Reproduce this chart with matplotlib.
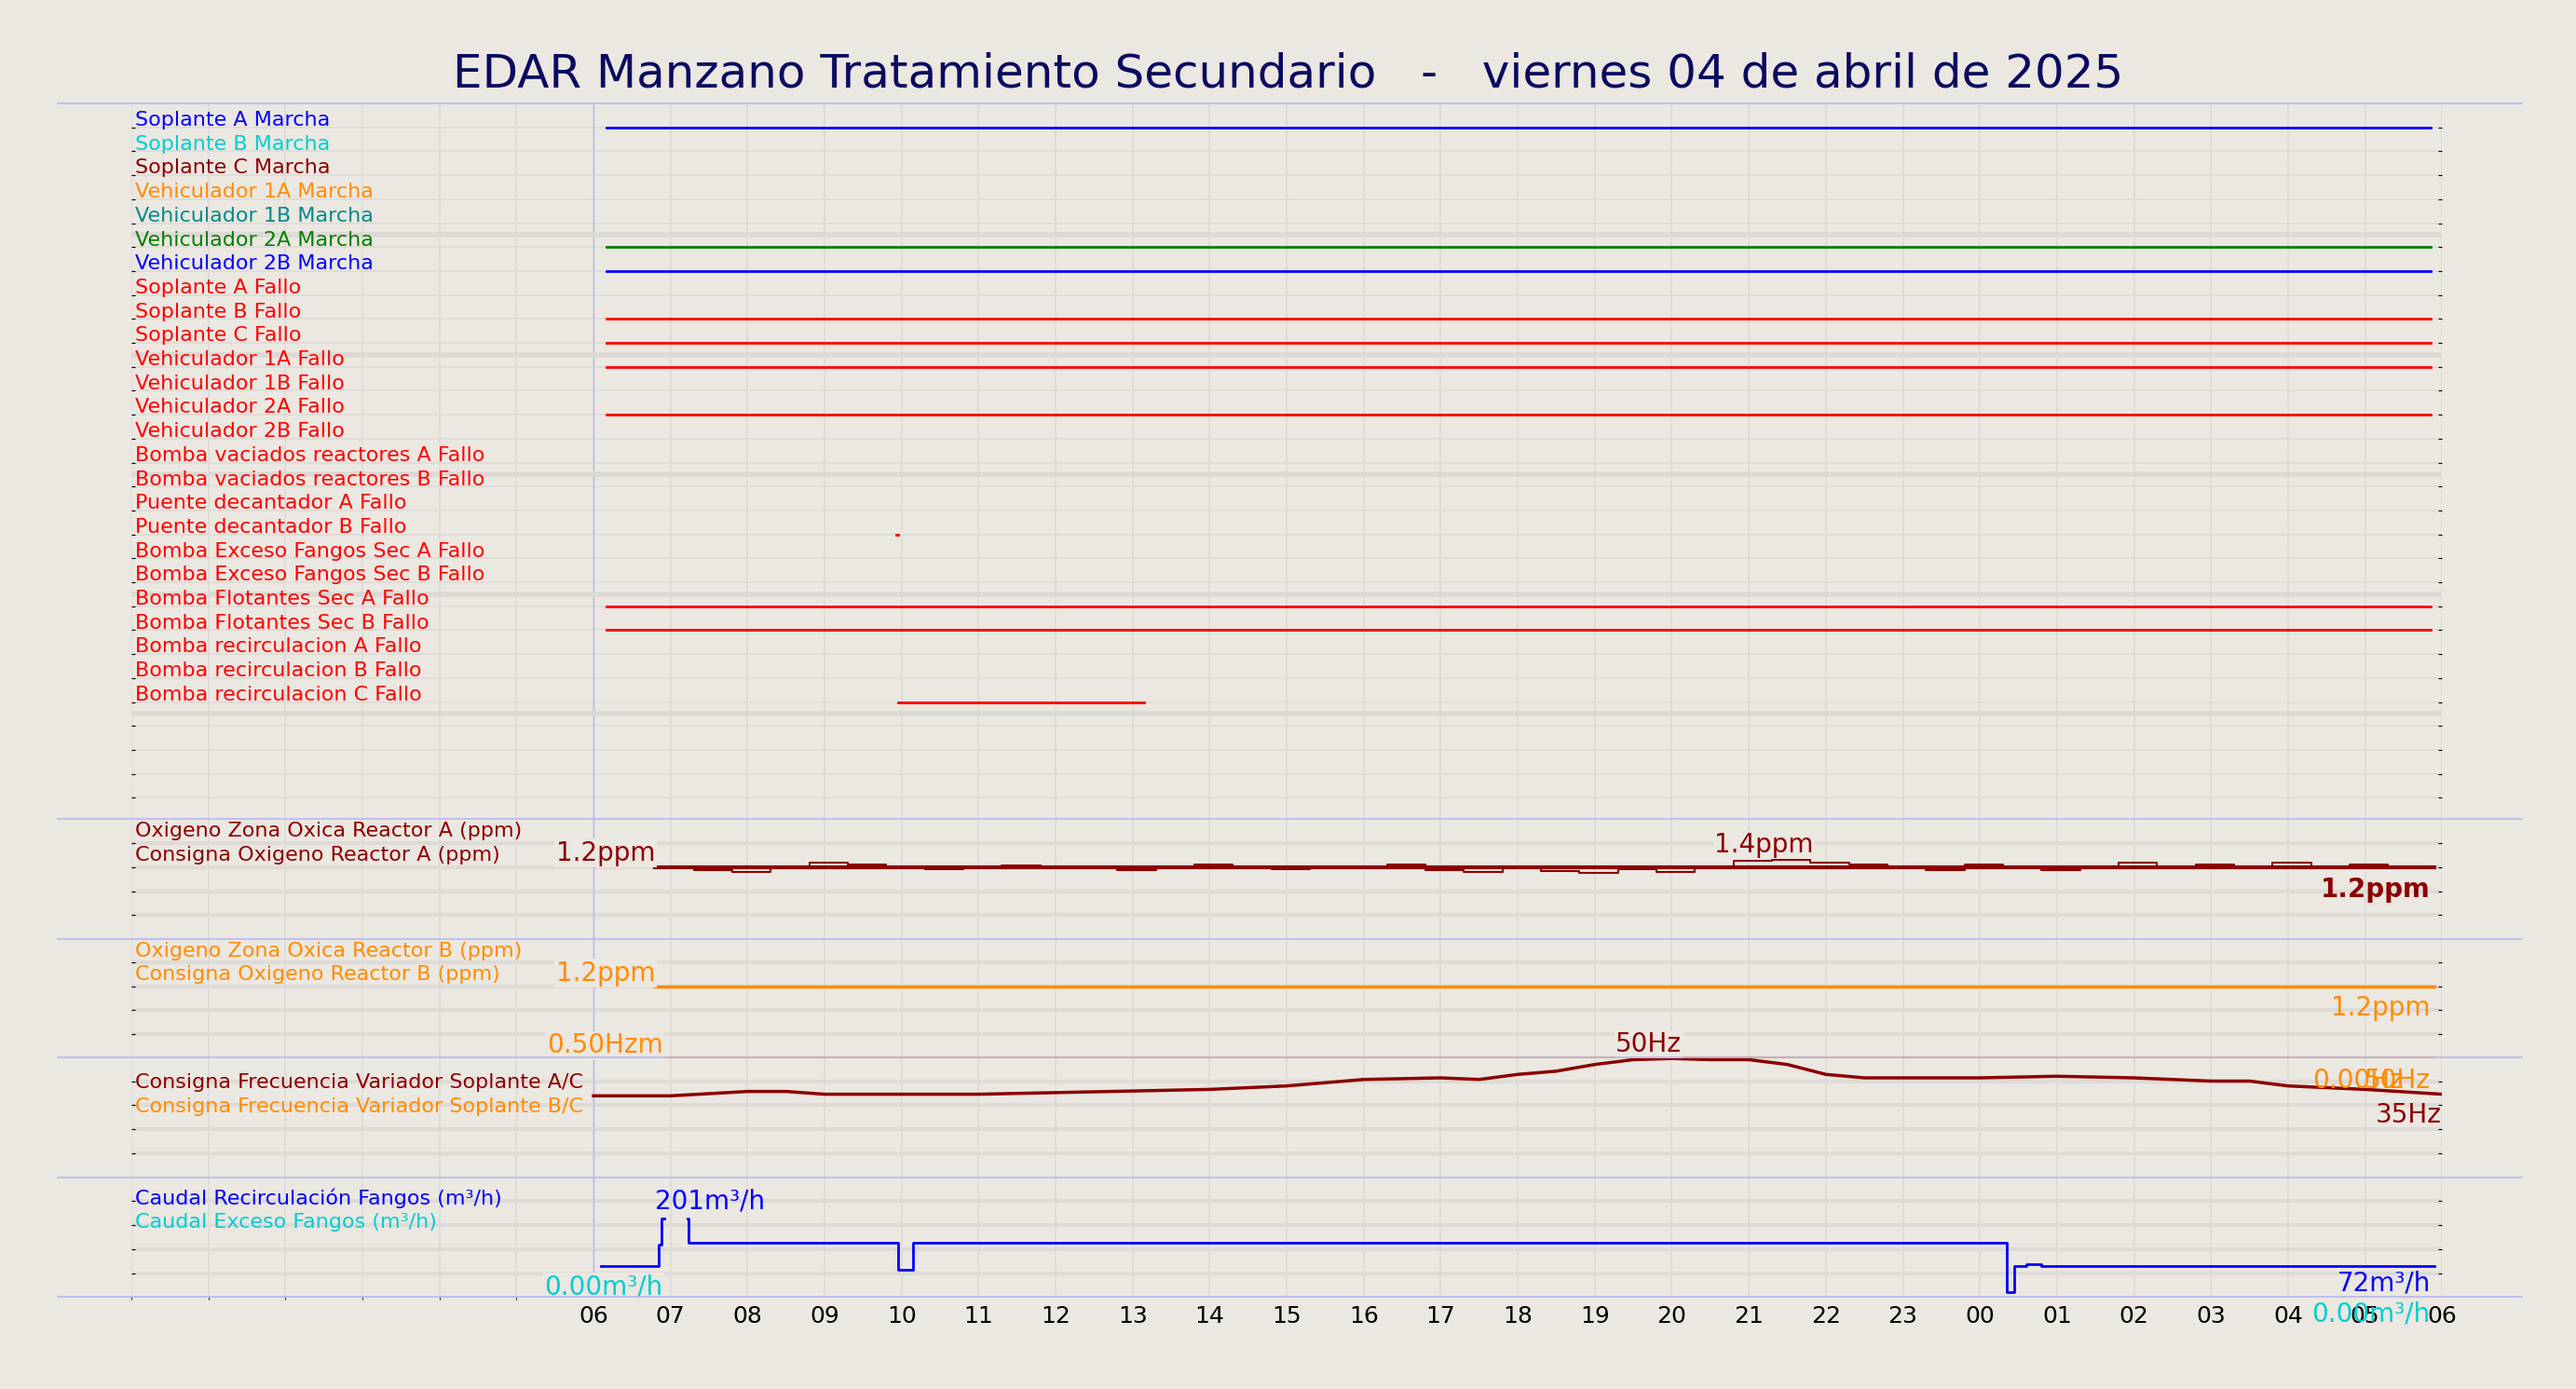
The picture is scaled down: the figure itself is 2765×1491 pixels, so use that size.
import numpy as np
import matplotlib
matplotlib.use("Agg")
import matplotlib.pyplot as plt
from matplotlib.lines import Line2D

BG = '#ebe7e1'
GRID = '#dedad6'
SEP = '#b8b8f0'

title = "EDAR Manzano Tratamiento Secundario   -   viernes 04 de abril de 2025"

# ---- panel 1: digital signals ----
signal_names = [
    "Soplante A Marcha", "Soplante B Marcha", "Soplante C Marcha",
    "Vehiculador 1A Marcha", "Vehiculador 1B Marcha", "Vehiculador 2A Marcha",
    "Vehiculador 2B Marcha", "Soplante A Fallo", "Soplante B Fallo",
    "Soplante C Fallo", "Vehiculador 1A Fallo", "Vehiculador 1B Fallo",
    "Vehiculador 2A Fallo", "Vehiculador 2B Fallo",
    "Bomba vaciados reactores A Fallo", "Bomba vaciados reactores B Fallo",
    "Puente decantador A Fallo", "Puente decantador B Fallo",
    "Bomba Exceso Fangos Sec A Fallo", "Bomba Exceso Fangos Sec B Fallo",
    "Bomba Flotantes Sec A Fallo", "Bomba Flotantes Sec B Fallo",
    "Bomba recirculacion A Fallo", "Bomba recirculacion B Fallo",
    "Bomba recirculacion C Fallo",
]
signal_colors = [
    'blue', 'darkturquoise', 'darkred', 'darkorange', 'darkcyan', 'green',
    'blue'] + ['red'] * 18
# active intervals (hours from 00:00 of the day; 24+ = next day)
signal_on = {
    0: [(6.17, 29.85)], 5: [(6.17, 29.85)], 6: [(6.17, 29.85)],
    8: [(6.17, 29.85)], 9: [(6.17, 29.85)], 10: [(6.17, 29.85)],
    12: [(6.17, 29.85)], 17: [(9.93, 9.96)], 20: [(6.17, 29.85)],
    21: [(6.17, 29.85)], 24: [(9.95, 13.15)],
}

# ---- panel 2: oxygen reactor A ----
oxa_t = [6.8 + 0.5 * i for i in range(47)]
oxa_v = [1.2, 1.15, 1.12, 1.2, 1.27, 1.24, 1.2, 1.16, 1.2, 1.23, 1.2, 1.2,
         1.15, 1.2, 1.25, 1.2, 1.16, 1.2, 1.2, 1.24, 1.15, 1.12, 1.2, 1.14,
         1.1, 1.16, 1.12, 1.2, 1.3, 1.33, 1.27, 1.25, 1.2, 1.15, 1.24, 1.2,
         1.15, 1.2, 1.27, 1.2, 1.24, 1.2, 1.28, 1.2, 1.24, 1.2, 1.22]
oxa_sp = 1.2
oxb_sp = 1.2

# ---- panel 4: blower frequency ----
freq_t = [6, 7, 8, 8.5, 9, 10, 11, 12, 13, 14, 15, 16, 17, 17.5, 18, 18.5,
          19, 19.5, 20, 20.5, 21, 21.5, 22, 22.5, 23, 24, 25, 26, 27, 27.5,
          28, 29, 30]
freq_v = [34.3, 34.3, 36.2, 36.2, 35.0, 35.0, 35.0, 35.7, 36.4, 37.1, 38.6,
          41.4, 42.1, 41.4, 43.6, 45.0, 47.9, 50.0, 50.5, 50.0, 50.0, 47.9,
          43.6, 42.1, 42.1, 42.1, 42.8, 42.1, 40.7, 40.7, 38.6, 37.1, 35.0]
freq_bc = 50.8

# ---- panel 5: sludge flows ----
rec_t = [6.1, 6.85, 6.88, 6.92, 7.22, 7.23, 9.95, 10.15, 24.35, 24.45, 24.6,
         24.8, 29.9]
rec_v = [72, 130, 201, np.nan, 201, 134, 62, 134, 0, 72, 76, 72, 70]
exc_v = 0.0

hours = np.arange(6, 31)
hour_labels = ["%02d" % (h % 24) for h in hours]

fig = plt.figure(figsize=(27.65, 14.91), dpi=100, facecolor=BG)
gs = fig.add_gridspec(5, 1, height_ratios=[436, 73, 72, 73, 73], hspace=0,
                      left=0.051, right=0.948, top=0.9255, bottom=0.0662)
axes = [fig.add_subplot(gs[i]) for i in range(5)]
fs = 16
vfs = 20


def style(ax):
    ax.set_facecolor(BG)
    ax.set_xlim(0, 30)
    ax.set_xticks(np.arange(0, 31, 1))
    ax.tick_params(axis='x', length=0, labelbottom=False)
    ax.grid(axis='x', color=GRID, lw=1.2)
    for s in ax.spines.values():
        s.set_visible(False)
    ax.tick_params(axis='y', left=True, right=True, labelleft=False,
                   length=3, color='black', direction='in')
    ax.axvline(6, color=SEP, lw=1.0)


# panel 1
ax = axes[0]
style(ax)
ax.set_ylim(29.2, -0.7)
ax.set_yticks(np.arange(0, 29) + 0.3)
ax.grid(axis='y', color=GRID, lw=1.2)
for r in range(4, 29, 5):
    ax.axhline(r + 0.8, color='#dcd8d4', lw=4)
for i, name in enumerate(signal_names):
    ax.text(0.05, i, name, color=signal_colors[i], fontsize=fs, va='center')
    for a, b in signal_on.get(i, []):
        ax.plot([a, b], [i + 0.3, i + 0.3], color=signal_colors[i], lw=2)

# panel 2
ax = axes[1]
style(ax)
ax.set_ylim(0, 2.0)
ax.set_yticks([0.4, 0.8, 1.2, 1.6])
ax.grid(axis='y', color=GRID, lw=3)
ax.text(0.05, 1.8, "Oxigeno Zona Oxica Reactor A (ppm)", color='darkred', fontsize=fs, va='center')
ax.text(0.05, 1.4, "Consigna Oxigeno Reactor A (ppm)", color='darkred', fontsize=fs, va='center')
ax.step(oxa_t, oxa_v, where='post', color='darkred', lw=1.5)
ax.plot([6.8, 29.9], [oxa_sp, oxa_sp], color='darkred', lw=3)
ax.text(6.8, 1.22, "1.2ppm", color='darkred', fontsize=vfs, ha='right', va='bottom',
        bbox=dict(fc=BG, ec='none', pad=1))
ax.text(21.2, 1.36, "1.4ppm", color='darkred', fontsize=vfs, ha='center', va='bottom',
        bbox=dict(fc=BG, ec='none', pad=1))
ax.text(29.85, 1.05, "1.2ppm", color='darkred', fontsize=vfs, ha='right', va='top',
        fontweight='bold')

# panel 3
ax = axes[2]
style(ax)
ax.set_ylim(0, 2.0)
ax.set_yticks([0.4, 0.8, 1.2, 1.6])
ax.grid(axis='y', color=GRID, lw=3)
ax.text(0.05, 1.8, "Oxigeno Zona Oxica Reactor B (ppm)", color='darkorange', fontsize=fs, va='center')
ax.text(0.05, 1.4, "Consigna Oxigeno Reactor B (ppm)", color='darkorange', fontsize=fs, va='center')
ax.plot([6.8, 29.9], [oxb_sp, oxb_sp], color='darkorange', lw=2.5)
ax.text(6.8, 1.2, "1.2ppm", color='darkorange', fontsize=vfs, ha='right', va='bottom',
        bbox=dict(fc=BG, ec='none', pad=1))
ax.text(29.85, 1.05, "1.2ppm", color='darkorange', fontsize=vfs, ha='right', va='top')

# panel 4
ax = axes[3]
style(ax)
ax.set_ylim(-1, 51)
ax.set_yticks([9.4, 19.8, 30.2, 40.6])
ax.grid(axis='y', color=GRID, lw=3)
ax.text(0.05, 40, "Consigna Frecuencia Variador Soplante A/C", color='darkred', fontsize=fs, va='center')
ax.text(0.05, 29.5, "Consigna Frecuencia Variador Soplante B/C", color='darkorange', fontsize=fs, va='center')
ax.plot([6.9, 29.9], [freq_bc, freq_bc], color='darkorange', lw=1.5, clip_on=False)
ax.plot(freq_t, freq_v, color='darkred', lw=2.5)
ax.text(6.9, 50.5, "0.50Hzm", color='darkorange', fontsize=vfs, ha='right', va='bottom',
        bbox=dict(fc=BG, ec='none', pad=1), clip_on=False)
ax.text(19.7, 51, "50Hz", color='darkred', fontsize=vfs, ha='center', va='bottom',
        bbox=dict(fc=BG, ec='none', pad=1), clip_on=False)
ax.text(29.5, 41, "0.00Hz", color='darkorange', fontsize=vfs, ha='right', va='center')
ax.text(29.85, 41, "50Hz", color='darkorange', fontsize=vfs, ha='right', va='center')
ax.text(30.0, 26, "35Hz", color='darkred', fontsize=vfs, ha='right', va='center')

# panel 5
ax = axes[4]
style(ax)
ax.set_ylim(-13, 312)
ax.set_yticks([52, 117, 182, 247])
ax.grid(axis='y', color=GRID, lw=3)
ax.text(0.05, 255, "Caudal Recirculación Fangos (m³/h)", color='blue', fontsize=fs, va='center')
ax.text(0.05, 190, "Caudal Exceso Fangos (m³/h)", color='darkturquoise', fontsize=fs, va='center')
ax.step(rec_t, rec_v, where='post', color='blue', lw=2)
ax.text(6.8, 212, "201m³/h", color='blue', fontsize=vfs, ha='left', va='bottom')
ax.text(6.9, 15, "0.00m³/h", color='darkturquoise', fontsize=vfs, ha='right', va='center',
        bbox=dict(fc=BG, ec='none', pad=1))
ax.text(29.85, 25, "72m³/h", color='blue', fontsize=vfs, ha='right', va='center')
ax.text(29.85, -60, "0.00m³/h", color='darkturquoise', fontsize=vfs, ha='right', va='center',
        clip_on=False)
ax.set_xticks(hours)
ax.set_xticklabels(hour_labels, fontsize=18)
ax.tick_params(axis='x', labelbottom=True, pad=6)
ax.set_xticks(np.arange(0, 31, 1), minor=True)
ax.grid(axis='x', which='minor', color=GRID, lw=1.2)

# separators between panels
for yy in [63, 499, 572, 644, 717, 790]:
    fy = 1 - yy / 846
    fig.add_artist(Line2D([35 / 1568, 1535 / 1568], [fy, fy], color=SEP, lw=1.2,
                          transform=fig.transFigure))

fig.text(0.5, 1 - 45 / 846, title, ha='center', va='center', fontsize=36, color='#0a0a60')

fig.savefig("out.png", dpi=100, facecolor=BG)
